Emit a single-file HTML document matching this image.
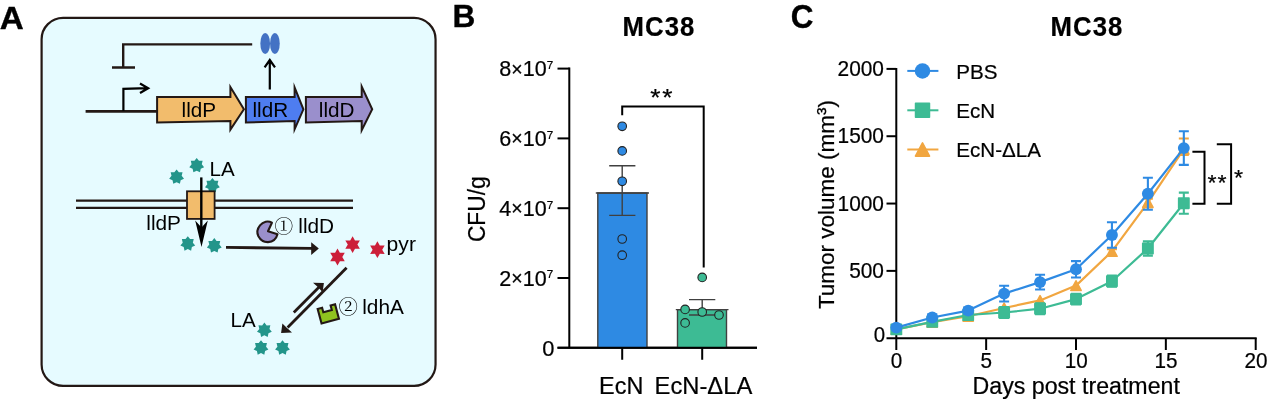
<!DOCTYPE html>
<html lang="en">
<head>
<meta charset="utf-8">
<title>Figure</title>
<style>
html,body{margin:0;padding:0;background:#fff;}
body{width:1268px;height:402px;overflow:hidden;}
svg{display:block;}
text{font-family:"Liberation Sans","Noto Sans CJK SC",sans-serif;fill:#000;}
.b{font-weight:bold;}
.circ{font-family:"Liberation Serif","Noto Serif CJK SC",serif;}
.st{stroke:#000;stroke-width:0.3px;}
.sb{stroke:#000;stroke-width:0.35px;}
#panelB text,#panelC text{stroke:#000;stroke-width:0.22px;}
#panelB text.sb,#panelC text.sb{stroke-width:0.35px;}
</style>
</head>
<body>
<svg width="1268" height="402" viewBox="0 0 1268 402">
<rect width="1268" height="402" fill="#fff"/>

<g id="panelA">
<text class="b sb" transform="translate(-0.20,29.10) scale(1.045,1)" font-size="31.8">A</text>
<rect x="41.6" y="17.8" width="393.95" height="368.1" rx="21.5" ry="21.5" fill="#E6FBFF" stroke="#231815" stroke-width="2.2"/>
<path d="M252.2,44.4 H123.2 V67.5 M112,67.5 H135" fill="none" stroke="#231815" stroke-width="2.4"/>
<ellipse cx="265.2" cy="43.5" rx="4.85" ry="10.6" fill="#4472C4"/>
<ellipse cx="274.9" cy="43.5" rx="4.85" ry="10.6" fill="#4472C4"/>
<path d="M269.8,89.5 V60.5 M264.6,67.3 L269.8,60 L275,67.3" fill="none" stroke="#000" stroke-width="2.2"/>
<path d="M85.6,111.4 H158" fill="none" stroke="#231815" stroke-width="2.6"/>
<path d="M123.4,111 V88.8 L147.6,88.2 M140,83.5 L148.2,88.2 L140,93" fill="none" stroke="#000" stroke-width="2.2"/>
<polygon points="157.1,97 230.4,97 230.4,87 243.9,109.3 230.4,129.6 230.4,121 157.1,122.5" fill="#F2BC6C" stroke="#231815" stroke-width="2" stroke-linejoin="miter" stroke-miterlimit="10"/>
<polygon points="245.9,97 294.6,97 294.6,87.5 303.4,109.3 294.6,129.3 294.6,121 245.9,122.5" fill="#4E7DF0" stroke="#231815" stroke-width="2" stroke-linejoin="miter" stroke-miterlimit="10"/>
<polygon points="305.9,97 361.7,97 361.7,86.5 372.2,109.3 361.7,130.2 361.7,121 305.9,122.5" fill="#9A8FCC" stroke="#231815" stroke-width="2" stroke-linejoin="miter" stroke-miterlimit="10"/>
<text transform="translate(181.60,117.10) scale(1.050,1)" font-size="19.7">lldP</text>
<text transform="translate(252.50,117.10) scale(1.050,1)" font-size="19.7">lldR</text>
<text transform="translate(318.80,117.10) scale(1.050,1)" font-size="19.7">lldD</text>
<polygon points="176.60,169.40 178.86,172.31 182.54,172.26 181.67,175.84 184.01,178.69 180.67,180.24 179.90,183.85 176.60,182.20 173.30,183.85 172.53,180.24 169.19,178.69 171.53,175.84 170.66,172.26 174.34,172.31" fill="#23958A"/>
<polygon points="196.70,157.90 198.96,160.81 202.64,160.76 201.77,164.34 204.11,167.19 200.77,168.74 200.00,172.35 196.70,170.70 193.40,172.35 192.63,168.74 189.29,167.19 191.63,164.34 190.76,160.76 194.44,160.81" fill="#23958A"/>
<polygon points="212.40,177.90 214.66,180.81 218.34,180.76 217.47,184.34 219.81,187.19 216.47,188.74 215.70,192.35 212.40,190.70 209.10,192.35 208.33,188.74 204.99,187.19 207.33,184.34 206.46,180.76 210.14,180.81" fill="#23958A"/>
<text transform="translate(209.50,176.30) scale(1.030,1)" font-size="20">LA</text>
<path d="M76,200.6 H353 M76,207.9 H353" fill="none" stroke="#231815" stroke-width="2.4"/>
<rect x="187" y="191.3" width="27.6" height="27.6" fill="#F2BC6C" stroke="#231815" stroke-width="1.8"/>
<path d="M201.3,177.4 V230" fill="none" stroke="#000" stroke-width="2.4"/>
<path d="M195.2,220.6 L201.5,247 L207.8,220.6 L201.5,227.5 Z" fill="#000"/>
<text transform="translate(146.30,230.40) scale(1.040,1)" font-size="20">lldP</text>
<polygon points="187.80,236.20 190.06,239.11 193.74,239.06 192.87,242.64 195.21,245.49 191.87,247.04 191.10,250.65 187.80,249.00 184.50,250.65 183.73,247.04 180.39,245.49 182.73,242.64 181.86,239.06 185.54,239.11" fill="#23958A"/>
<polygon points="214.30,238.10 216.56,241.01 220.24,240.96 219.37,244.54 221.71,247.39 218.37,248.94 217.60,252.55 214.30,250.90 211.00,252.55 210.23,248.94 206.89,247.39 209.23,244.54 208.36,240.96 212.04,241.01" fill="#23958A"/>
<path d="M226,247.4 L312,248.4" fill="none" stroke="#231815" stroke-width="2.8"/>
<polygon points="311.2,242.2 318.8,248.6 311.2,255" fill="#231815"/>
<path d="M271.9,222.7 C268,220.5 263.1,221.5 260,225.4 C257.1,229 256.8,233 258.4,236.2 C260.4,239.9 264,242.2 268,242.1 C272.6,241.9 276.3,238.8 277.5,234.3 L268,231.3 Z" fill="#9A8FCC" stroke="#231815" stroke-width="2.1" stroke-linejoin="round"/>
<text class="circ" transform="translate(283.80,232.90)" font-size="18.7" text-anchor="middle">①</text>
<text transform="translate(298.30,232.70) scale(1.040,1)" font-size="20">lldD</text>
<polygon points="352.60,236.20 355.00,240.44 359.87,240.40 357.40,244.60 359.87,248.80 355.00,248.76 352.60,253.00 350.20,248.76 345.33,248.80 347.80,244.60 345.33,240.40 350.20,240.44" fill="#CC1F39"/>
<polygon points="337.50,248.60 339.90,252.84 344.77,252.80 342.30,257.00 344.77,261.20 339.90,261.16 337.50,265.40 335.10,261.16 330.23,261.20 332.70,257.00 330.23,252.80 335.10,252.84" fill="#CC1F39"/>
<polygon points="377.40,241.30 379.80,245.54 384.67,245.50 382.20,249.70 384.67,253.90 379.80,253.86 377.40,258.10 375.00,253.86 370.13,253.90 372.60,249.70 370.13,245.50 375.00,245.54" fill="#CC1F39"/>
<text transform="translate(386.60,251.00) scale(1.030,1)" font-size="20.5">pyr</text>
<path d="M346.6,267.8 L287.6,327.6" fill="none" stroke="#231815" stroke-width="2.8"/>
<polygon points="281.1,332.9 282.4,323.6 287,328 292,332.6" fill="#231815"/>
<path d="M293.8,312.6 L319.4,286.8" fill="none" stroke="#231815" stroke-width="2.8"/>
<polygon points="323.9,283.1 322.6,292.2 318.4,287.4 313,282.7" fill="#231815"/>
<g transform="translate(328.3,313.9) rotate(-15)"><path d="M-9,-7.5 H-4.4 V-2.8 H4.4 V-7.5 H9 V7.5 H-9 Z" fill="#8FC31F" stroke="#231815" stroke-width="2.1"/></g>
<text class="circ" transform="translate(348.20,313.90)" font-size="19.4" text-anchor="middle">②</text>
<text transform="translate(362.20,313.80) scale(1.040,1)" font-size="20">ldhA</text>
<text transform="translate(230.60,327.30) scale(1.030,1)" font-size="20">LA</text>
<polygon points="264.40,322.50 266.66,325.41 270.34,325.36 269.47,328.94 271.81,331.79 268.47,333.34 267.70,336.95 264.40,335.30 261.10,336.95 260.33,333.34 256.99,331.79 259.33,328.94 258.46,325.36 262.14,325.41" fill="#23958A"/>
<polygon points="261.00,340.20 263.26,343.11 266.94,343.06 266.07,346.64 268.41,349.49 265.07,351.04 264.30,354.65 261.00,353.00 257.70,354.65 256.93,351.04 253.59,349.49 255.93,346.64 255.06,343.06 258.74,343.11" fill="#23958A"/>
<polygon points="282.50,340.20 284.76,343.11 288.44,343.06 287.57,346.64 289.91,349.49 286.57,351.04 285.80,354.65 282.50,353.00 279.20,354.65 278.43,351.04 275.09,349.49 277.43,346.64 276.56,343.06 280.24,343.11" fill="#23958A"/>
</g>
<g id="panelB">
<text class="b sb" transform="translate(452.60,27.00) scale(1.020,1)" font-size="31">B</text>
<text class="b" transform="translate(659.00,36.10) scale(0.960,1)" font-size="26.8" text-anchor="middle" letter-spacing="1.1">MC38</text>
<path d="M569.3,67.60 V347.8 M557.5,347.8 H757" fill="none" stroke="#000" stroke-width="2"/>
<text transform="translate(554.40,355.50)" font-size="21.9" text-anchor="end">0</text>
<path d="M557.5,278.00 H569.5" stroke="#000" stroke-width="2"/>
<text transform="translate(553.30,285.70) scale(0.985,1)" font-size="21.9" text-anchor="end">2<tspan font-size="19.8" dy="-0.7">×</tspan><tspan dy="0.7">10</tspan><tspan font-size="18.5" dy="-2.3">⁷</tspan></text>
<path d="M557.5,208.20 H569.5" stroke="#000" stroke-width="2"/>
<text transform="translate(553.30,215.90) scale(0.985,1)" font-size="21.9" text-anchor="end">4<tspan font-size="19.8" dy="-0.7">×</tspan><tspan dy="0.7">10</tspan><tspan font-size="18.5" dy="-2.3">⁷</tspan></text>
<path d="M557.5,138.40 H569.5" stroke="#000" stroke-width="2"/>
<text transform="translate(553.30,146.10) scale(0.985,1)" font-size="21.9" text-anchor="end">6<tspan font-size="19.8" dy="-0.7">×</tspan><tspan dy="0.7">10</tspan><tspan font-size="18.5" dy="-2.3">⁷</tspan></text>
<path d="M557.5,68.60 H569.5" stroke="#000" stroke-width="2"/>
<text transform="translate(553.30,76.30) scale(0.985,1)" font-size="21.9" text-anchor="end">8<tspan font-size="19.8" dy="-0.7">×</tspan><tspan dy="0.7">10</tspan><tspan font-size="18.5" dy="-2.3">⁷</tspan></text>
<path d="M622.2,347.8 V359.8 M702.2,347.8 V359.8" stroke="#000" stroke-width="2"/>
<text transform="translate(621.20,394.10)" font-size="23.4" text-anchor="middle">EcN</text>
<text transform="translate(703.40,394.10) scale(1.015,1)" font-size="23.4" text-anchor="middle">EcN-ΔLA</text>
<text transform="translate(484.60,209.20) rotate(-90) scale(0.950,1)" font-size="24" text-anchor="middle">CFU/g</text>
<path d="M597.8,347.8 V193 H647 V347.8" fill="#2E8AE3" stroke="#404040" stroke-width="1.4"/>
<path d="M595.8,193 H649" stroke="#404040" stroke-width="1.4"/>
<path d="M622.2,165.8 V215.4 M609.2,165.8 H635.4 M609.2,215.4 H635.4" stroke="#404040" stroke-width="1.4" fill="none"/>
<circle cx="622.2" cy="126.3" r="4.3" fill="#2E8AE3" stroke="#222" stroke-width="1.1"/>
<circle cx="622.2" cy="150.9" r="4.3" fill="#2E8AE3" stroke="#222" stroke-width="1.1"/>
<circle cx="622.2" cy="181.3" r="4.3" fill="#2E8AE3" stroke="#222" stroke-width="1.1"/>
<circle cx="622.2" cy="239" r="4.3" fill="#2E8AE3" stroke="#222" stroke-width="1.1"/>
<circle cx="622.2" cy="255.2" r="4.3" fill="#2E8AE3" stroke="#222" stroke-width="1.1"/>
<path d="M677.5,347.8 V309.6 H726.5 V347.8" fill="#3DBB94" stroke="#404040" stroke-width="1.4"/>
<path d="M675.8,309.6 H728.5" stroke="#404040" stroke-width="1.4"/>
<path d="M702.2,299.6 V315 M689,299.6 H715.3 M689,315 H715.3" stroke="#404040" stroke-width="1.4" fill="none"/>
<circle cx="702.2" cy="277.4" r="4.3" fill="#3DBB94" stroke="#222" stroke-width="1.1"/>
<circle cx="685.1" cy="309.4" r="4.3" fill="#3DBB94" stroke="#222" stroke-width="1.1"/>
<circle cx="702.2" cy="312" r="4.3" fill="#3DBB94" stroke="#222" stroke-width="1.1"/>
<circle cx="719" cy="315" r="4.3" fill="#3DBB94" stroke="#222" stroke-width="1.1"/>
<circle cx="685.1" cy="322.9" r="4.3" fill="#3DBB94" stroke="#222" stroke-width="1.1"/>
<path d="M557.5,347.8 H757" fill="none" stroke="#000" stroke-width="2"/>
<path d="M622.2,115.3 V106.4 H703.7 V267.4" fill="none" stroke="#000" stroke-width="2"/>
<text class="st" transform="translate(662.20,106.30) scale(1.100,1)" font-size="23.8" text-anchor="middle" letter-spacing="1.6">**</text>
</g>
<g id="panelC">
<text class="b sb" transform="translate(790.70,27.70) scale(0.925,1)" font-size="34.0">C</text>
<text class="b" transform="translate(1087.00,36.10) scale(0.960,1)" font-size="26.8" text-anchor="middle" letter-spacing="1.1">MC38</text>
<path d="M896.3,67.90 V338.2 M886.5,338.2 H1256.70" fill="none" stroke="#000" stroke-width="2"/>
<text transform="translate(885.20,342.40) scale(0.930,1)" font-size="22" text-anchor="end">0</text>
<path d="M886.5,270.88 H896.3" stroke="#000" stroke-width="2"/>
<text transform="translate(884.00,277.88) scale(0.950,1)" font-size="22" text-anchor="end">500</text>
<path d="M886.5,203.55 H896.3" stroke="#000" stroke-width="2"/>
<text transform="translate(884.00,210.55) scale(0.950,1)" font-size="22" text-anchor="end">1000</text>
<path d="M886.5,136.23 H896.3" stroke="#000" stroke-width="2"/>
<text transform="translate(884.00,143.23) scale(0.950,1)" font-size="22" text-anchor="end">1500</text>
<path d="M886.5,68.90 H896.3" stroke="#000" stroke-width="2"/>
<text transform="translate(884.00,75.90) scale(0.950,1)" font-size="22" text-anchor="end">2000</text>
<path d="M896.30,338.2 V350" stroke="#000" stroke-width="2"/>
<text transform="translate(896.50,368.20) scale(0.950,1)" font-size="21.8" text-anchor="middle">0</text>
<path d="M986.15,338.2 V350" stroke="#000" stroke-width="2"/>
<text transform="translate(986.35,368.20) scale(0.950,1)" font-size="21.8" text-anchor="middle">5</text>
<path d="M1076.00,338.2 V350" stroke="#000" stroke-width="2"/>
<text transform="translate(1076.20,368.20) scale(0.950,1)" font-size="21.8" text-anchor="middle">10</text>
<path d="M1165.85,338.2 V350" stroke="#000" stroke-width="2"/>
<text transform="translate(1166.05,368.20) scale(0.950,1)" font-size="21.8" text-anchor="middle">15</text>
<path d="M1255.70,338.2 V350" stroke="#000" stroke-width="2"/>
<text transform="translate(1255.90,368.20) scale(0.950,1)" font-size="21.8" text-anchor="middle">20</text>
<text transform="translate(1076.20,394.40) scale(0.995,1)" font-size="23.3" text-anchor="middle">Days post treatment</text>
<text transform="translate(833.80,204.50) rotate(-90)" font-size="22.5" text-anchor="middle">Tumor volume (mm<tspan dy="-1.4">³</tspan><tspan dy="1.4">)</tspan></text>
<path d="M1111.94,249.20 V255.90 M1106.94,249.20 H1116.94 M1106.94,255.90 H1116.94" stroke="#F1A640" stroke-width="2.1" fill="none"/>
<path d="M1147.88,198.60 V207.10 M1142.88,198.60 H1152.88 M1142.88,207.10 H1152.88" stroke="#F1A640" stroke-width="2.1" fill="none"/>
<path d="M1183.82,138.50 V155.00 M1178.82,138.50 H1188.82 M1178.82,155.00 H1188.82" stroke="#F1A640" stroke-width="2.1" fill="none"/>
<polyline points="896.30,329.30 932.24,322.20 968.18,316.20 1004.12,308.00 1040.06,300.40 1076.00,285.60 1111.94,251.40 1147.88,202.60 1183.82,149.20" fill="none" stroke="#F1A640" stroke-width="2.2" stroke-linejoin="round"/>
<polygon points="896.30,324.50 901.45,334.20 891.15,334.20" fill="#F1A640" stroke="#F1A640" stroke-width="1.6" stroke-linejoin="round"/>
<polygon points="932.24,317.40 937.39,327.10 927.09,327.10" fill="#F1A640" stroke="#F1A640" stroke-width="1.6" stroke-linejoin="round"/>
<polygon points="968.18,311.40 973.33,321.10 963.03,321.10" fill="#F1A640" stroke="#F1A640" stroke-width="1.6" stroke-linejoin="round"/>
<polygon points="1004.12,303.20 1009.27,312.90 998.97,312.90" fill="#F1A640" stroke="#F1A640" stroke-width="1.6" stroke-linejoin="round"/>
<polygon points="1040.06,295.60 1045.21,305.30 1034.91,305.30" fill="#F1A640" stroke="#F1A640" stroke-width="1.6" stroke-linejoin="round"/>
<polygon points="1076.00,280.80 1081.15,290.50 1070.85,290.50" fill="#F1A640" stroke="#F1A640" stroke-width="1.6" stroke-linejoin="round"/>
<polygon points="1111.94,246.60 1117.09,256.30 1106.79,256.30" fill="#F1A640" stroke="#F1A640" stroke-width="1.6" stroke-linejoin="round"/>
<polygon points="1147.88,197.80 1153.03,207.50 1142.73,207.50" fill="#F1A640" stroke="#F1A640" stroke-width="1.6" stroke-linejoin="round"/>
<polygon points="1183.82,144.40 1188.97,154.10 1178.67,154.10" fill="#F1A640" stroke="#F1A640" stroke-width="1.6" stroke-linejoin="round"/>
<path d="M896.30,326.40 V332.40 M891.30,326.40 H901.30 M891.30,332.40 H901.30" stroke="#3DBB94" stroke-width="2.1" fill="none"/>
<path d="M932.24,318.90 V324.90 M927.24,318.90 H937.24 M927.24,324.90 H937.24" stroke="#3DBB94" stroke-width="2.1" fill="none"/>
<path d="M968.18,312.00 V318.00 M963.18,312.00 H973.18 M963.18,318.00 H973.18" stroke="#3DBB94" stroke-width="2.1" fill="none"/>
<path d="M1004.12,307.10 V317.90 M999.12,307.10 H1009.12 M999.12,317.90 H1009.12" stroke="#3DBB94" stroke-width="2.1" fill="none"/>
<path d="M1040.06,303.30 V314.10 M1035.06,303.30 H1045.06 M1035.06,314.10 H1045.06" stroke="#3DBB94" stroke-width="2.1" fill="none"/>
<path d="M1076.00,293.70 V304.50 M1071.00,293.70 H1081.00 M1071.00,304.50 H1081.00" stroke="#3DBB94" stroke-width="2.1" fill="none"/>
<path d="M1111.94,275.60 V286.80 M1106.94,275.60 H1116.94 M1106.94,286.80 H1116.94" stroke="#3DBB94" stroke-width="2.1" fill="none"/>
<path d="M1147.88,241.40 V255.60 M1142.88,241.40 H1152.88 M1142.88,255.60 H1152.88" stroke="#3DBB94" stroke-width="2.1" fill="none"/>
<path d="M1183.82,192.60 V213.80 M1178.82,192.60 H1188.82 M1178.82,213.80 H1188.82" stroke="#3DBB94" stroke-width="2.1" fill="none"/>
<polyline points="896.30,329.40 932.24,321.90 968.18,315.00 1004.12,312.50 1040.06,308.70 1076.00,299.10 1111.94,281.20 1147.88,248.50 1183.82,203.20" fill="none" stroke="#3DBB94" stroke-width="2.2" stroke-linejoin="round"/>
<rect x="891.15" y="324.25" width="10.30" height="10.30" fill="#3DBB94" stroke="#3DBB94" stroke-width="1.6" stroke-linejoin="round"/>
<rect x="927.09" y="316.75" width="10.30" height="10.30" fill="#3DBB94" stroke="#3DBB94" stroke-width="1.6" stroke-linejoin="round"/>
<rect x="963.03" y="309.85" width="10.30" height="10.30" fill="#3DBB94" stroke="#3DBB94" stroke-width="1.6" stroke-linejoin="round"/>
<rect x="998.97" y="307.35" width="10.30" height="10.30" fill="#3DBB94" stroke="#3DBB94" stroke-width="1.6" stroke-linejoin="round"/>
<rect x="1034.91" y="303.55" width="10.30" height="10.30" fill="#3DBB94" stroke="#3DBB94" stroke-width="1.6" stroke-linejoin="round"/>
<rect x="1070.85" y="293.95" width="10.30" height="10.30" fill="#3DBB94" stroke="#3DBB94" stroke-width="1.6" stroke-linejoin="round"/>
<rect x="1106.79" y="276.05" width="10.30" height="10.30" fill="#3DBB94" stroke="#3DBB94" stroke-width="1.6" stroke-linejoin="round"/>
<rect x="1142.73" y="243.35" width="10.30" height="10.30" fill="#3DBB94" stroke="#3DBB94" stroke-width="1.6" stroke-linejoin="round"/>
<rect x="1178.67" y="198.05" width="10.30" height="10.30" fill="#3DBB94" stroke="#3DBB94" stroke-width="1.6" stroke-linejoin="round"/>
<path d="M896.30,325.60 V329.60 M891.30,325.60 H901.30 M891.30,329.60 H901.30" stroke="#2E8AE3" stroke-width="2.1" fill="none"/>
<path d="M932.24,314.50 V320.50 M927.24,314.50 H937.24 M927.24,320.50 H937.24" stroke="#2E8AE3" stroke-width="2.1" fill="none"/>
<path d="M968.18,307.60 V313.60 M963.18,307.60 H973.18 M963.18,313.60 H973.18" stroke="#2E8AE3" stroke-width="2.1" fill="none"/>
<path d="M1004.12,285.70 V301.50 M999.12,285.70 H1009.12 M999.12,301.50 H1009.12" stroke="#2E8AE3" stroke-width="2.1" fill="none"/>
<path d="M1040.06,274.70 V289.50 M1035.06,274.70 H1045.06 M1035.06,289.50 H1045.06" stroke="#2E8AE3" stroke-width="2.1" fill="none"/>
<path d="M1076.00,261.10 V277.50 M1071.00,261.10 H1081.00 M1071.00,277.50 H1081.00" stroke="#2E8AE3" stroke-width="2.1" fill="none"/>
<path d="M1111.94,222.30 V247.70 M1106.94,222.30 H1116.94 M1106.94,247.70 H1116.94" stroke="#2E8AE3" stroke-width="2.1" fill="none"/>
<path d="M1147.88,177.70 V209.70 M1142.88,177.70 H1152.88 M1142.88,209.70 H1152.88" stroke="#2E8AE3" stroke-width="2.1" fill="none"/>
<path d="M1183.82,131.30 V164.90 M1178.82,131.30 H1188.82 M1178.82,164.90 H1188.82" stroke="#2E8AE3" stroke-width="2.1" fill="none"/>
<polyline points="896.30,327.60 932.24,317.50 968.18,310.60 1004.12,293.60 1040.06,282.10 1076.00,269.30 1111.94,235.00 1147.88,193.70 1183.82,148.10" fill="none" stroke="#2E8AE3" stroke-width="2.2" stroke-linejoin="round"/>
<circle cx="896.30" cy="327.60" r="5.95" fill="#2E8AE3"/>
<circle cx="932.24" cy="317.50" r="5.95" fill="#2E8AE3"/>
<circle cx="968.18" cy="310.60" r="5.95" fill="#2E8AE3"/>
<circle cx="1004.12" cy="293.60" r="5.95" fill="#2E8AE3"/>
<circle cx="1040.06" cy="282.10" r="5.95" fill="#2E8AE3"/>
<circle cx="1076.00" cy="269.30" r="5.95" fill="#2E8AE3"/>
<circle cx="1111.94" cy="235.00" r="5.95" fill="#2E8AE3"/>
<circle cx="1147.88" cy="193.70" r="5.95" fill="#2E8AE3"/>
<circle cx="1183.82" cy="148.10" r="5.95" fill="#2E8AE3"/>
<path d="M907.3,70.9 H938.4" stroke="#2E8AE3" stroke-width="2"/>
<circle cx="922.50" cy="70.90" r="7.74" fill="#2E8AE3"/>
<text transform="translate(956.30,78.80) scale(0.980,1)" font-size="21">PBS</text>
<path d="M907.3,110.3 H938.4" stroke="#3DBB94" stroke-width="2"/>
<rect x="915.57" y="103.36" width="13.87" height="13.87" fill="#3DBB94" stroke="#3DBB94" stroke-width="1.6" stroke-linejoin="round"/>
<text transform="translate(956.30,118.20) scale(0.980,1)" font-size="21">EcN</text>
<path d="M907.3,149.5 H938.4" stroke="#F1A640" stroke-width="2"/>
<polygon points="922.50,142.87 929.55,156.11 915.45,156.11" fill="#F1A640" stroke="#F1A640" stroke-width="1.6" stroke-linejoin="round"/>
<text transform="translate(956.30,157.40) scale(0.980,1)" font-size="21">EcN-ΔLA</text>
<path d="M1192.4,151.7 H1204.5 V203.8 H1192.4" fill="none" stroke="#000" stroke-width="2"/>
<path d="M1216.8,144.2 H1231.1 V203.8 H1216.8" fill="none" stroke="#000" stroke-width="2"/>
<text class="st" transform="translate(1217.60,190.30) scale(1.030,1)" font-size="22.6" text-anchor="middle" letter-spacing="0.9">**</text>
<text class="st" transform="translate(1238.60,184.80) scale(1.030,1)" font-size="22.6" text-anchor="middle">*</text>
</g>
</svg>
</body>
</html>
